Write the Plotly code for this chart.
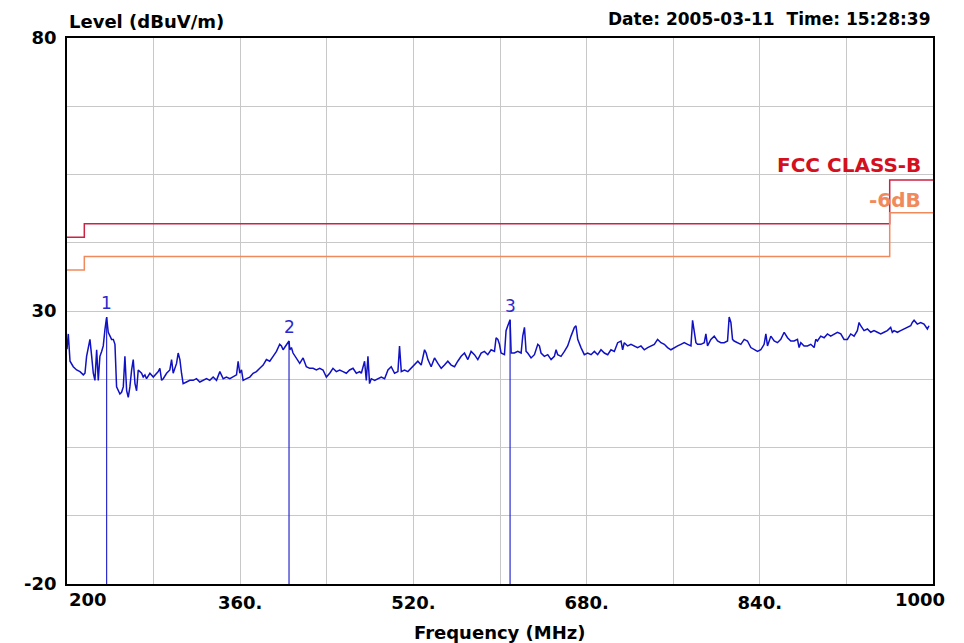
import plotly.graph_objects as go

# ---- measured trace (MHz, dBuV/m) ----
freq_mhz = [
    200.0, 201.2, 202.8, 205.8, 208.9, 212.0, 215.1, 216.6, 218.1, 221.2, 222.8, 224.3, 225.8, 227.4,
    228.9, 230.4, 232.0, 233.5, 235.1, 236.6, 238.1, 239.7, 241.2, 242.8, 244.3, 245.8, 247.4, 248.9,
    250.4, 252.0, 253.5, 255.1, 256.6, 258.1, 259.7, 261.2, 262.8, 264.3, 265.8, 267.4, 268.9, 270.4,
    272.0, 273.5, 276.6, 279.7, 282.7, 284.3, 285.8, 287.4, 288.9, 292.0, 295.0, 296.6, 298.1, 299.7,
    301.2, 302.7, 304.3, 305.8, 307.3, 310.4, 313.5, 316.6, 319.6, 322.7, 325.8, 328.9, 331.9, 335.0,
    338.1, 341.2, 344.3, 347.3, 350.4, 353.5, 356.6, 358.1, 359.6, 361.2, 362.7, 365.8, 368.9, 371.9,
    375.0, 378.1, 381.2, 384.2, 387.3, 390.4, 393.5, 396.5, 398.1, 399.6, 401.1, 402.7, 404.2, 405.1,
    405.8, 407.3, 408.8, 411.9, 415.0, 418.1, 421.1, 424.2, 427.3, 430.4, 433.4, 436.5, 439.6, 442.7,
    445.7, 448.8, 451.9, 455.0, 458.0, 461.1, 464.2, 467.3, 470.4,
    471.9, 474.9, 476.5, 478.0, 479.5, 481.1, 484.2, 487.2, 490.3, 493.4, 496.5, 499.5, 502.6, 505.7,
    507.2, 508.8, 511.8, 514.9, 518.0, 521.1, 524.1, 527.2, 530.3, 531.8, 533.4, 536.4, 539.5, 542.6,
    545.7, 548.7, 551.8, 554.9, 558.0, 561.0, 564.1, 567.2, 570.3, 573.3, 576.4, 579.5, 582.6, 585.6,
    588.7, 591.8, 594.9, 596.4, 598.0, 599.5, 601.0, 604.1, 605.6, 607.2, 608.7, 609.3, 610.3, 613.3,
    616.4, 619.5, 621.0, 622.6, 624.1, 625.6, 628.7, 631.8, 634.9, 636.4, 637.9, 641.0, 644.1, 647.2,
    650.2, 651.8, 653.3, 656.4, 659.5, 662.5, 665.6, 667.2, 668.7, 670.2, 671.8, 674.8, 677.9, 681.0,
    684.1, 687.2, 690.2, 693.3, 696.4, 699.5, 702.5, 705.6, 708.7, 711.8, 713.3, 714.8, 717.9, 721.0,
    724.1, 727.1, 730.2, 733.3, 736.4, 739.4,
    742.5, 745.6, 748.7, 751.8, 754.8, 757.9, 761.0, 764.1, 767.1, 770.2, 773.3, 776.4, 777.9, 779.4,
    781.0, 782.5, 785.6, 788.7, 790.2, 791.7, 794.8, 797.9, 801.0, 804.0, 807.1, 810.2, 811.7, 813.3,
    814.8, 816.3, 819.4, 822.5, 825.6, 828.6, 831.7, 834.8, 837.9, 840.9, 844.0, 845.6, 847.1, 850.2,
    853.3, 856.3, 859.4, 862.5, 865.6, 868.6, 871.7, 874.8, 876.3, 877.9, 880.9, 884.0, 887.1, 890.2,
    891.7, 893.2, 896.3, 899.4, 902.5, 905.5, 908.6, 911.7, 914.8, 917.8, 920.9, 924.0, 927.1, 930.1,
    931.7, 933.2, 936.3, 939.4, 942.5, 945.5, 948.6, 951.7, 954.8, 957.8, 960.9, 962.4, 964.0, 967.1,
    970.1, 973.2, 976.3, 979.4, 980.9, 982.5, 985.5, 988.6, 991.7, 994.8, 996.3,
]
level_dbuv = [
    23.0, 25.8, 20.8, 19.8, 19.2, 18.9, 18.3, 18.6, 21.7, 24.8, 21.7, 18.6, 17.3, 22.9,
    17.3, 21.7, 22.6, 23.6, 26.7, 28.9, 26.1, 25.4, 24.8, 24.8, 23.9, 16.1, 15.4, 14.8,
    15.1, 16.1, 21.7, 15.4, 14.2, 16.1, 19.2, 21.1, 16.7, 15.4, 19.2, 18.9, 18.6, 17.9,
    18.3, 17.6, 18.6, 17.9, 18.6, 18.9, 19.5, 17.3, 17.6, 18.6, 19.2, 21.1, 18.6, 19.8,
    20.4, 22.3, 21.1, 18.6, 16.7, 17.0, 17.3, 17.3, 17.6, 17.0, 17.3, 17.6, 17.3, 17.9,
    17.3, 18.9, 17.6, 17.9, 17.6, 17.9, 18.3, 20.8, 18.6, 19.2, 17.3, 17.6, 17.9, 18.6,
    18.9, 19.5, 20.1, 21.1, 20.8, 21.7, 22.6, 23.9, 23.6, 22.9, 23.3, 23.9, 24.2, 24.5,
    22.9, 23.3, 22.3, 21.4, 20.4, 21.4, 19.8, 19.5, 19.5, 19.2, 19.5, 19.2, 17.9, 18.6,
    19.5, 18.9, 19.2, 18.9, 18.6, 19.2, 19.5, 18.6, 18.9,
    18.6, 20.8, 17.3, 21.7, 16.7, 17.6, 17.3, 17.6, 17.9, 17.6, 19.2, 19.8, 18.6, 18.9,
    23.6, 18.9, 19.2, 18.9, 19.5, 20.1, 20.8, 20.1, 22.9, 22.3, 21.1, 19.8, 21.4, 20.4,
    19.5, 20.1, 20.8, 20.1, 19.8, 20.8, 21.7, 22.3, 21.1, 22.6, 22.0, 21.1, 22.3, 22.6,
    22.0, 22.9, 22.6, 25.1, 24.8, 23.9, 22.3, 22.0, 26.4, 27.3, 28.3, 28.4, 22.3, 22.3,
    22.6, 22.3, 25.4, 27.0, 22.6, 22.3, 21.4, 22.0, 23.9, 23.6, 22.3, 21.7, 22.0, 21.1,
    21.7, 22.9, 22.0, 21.7, 22.6, 23.6, 25.4, 26.1, 27.0, 27.3, 24.8, 23.3, 22.0, 22.3,
    22.0, 22.6, 22.0, 22.9, 22.3, 22.0, 22.9, 22.6, 24.2, 24.5, 22.9, 24.2, 23.6, 23.9,
    23.6, 23.3, 23.6, 22.9, 23.3, 23.6,
    23.9, 24.8, 24.2, 23.9, 23.3, 22.9, 23.3, 23.6, 23.9, 24.2, 23.9, 23.6, 28.3, 26.1,
    24.2, 23.9, 23.9, 24.2, 25.8, 23.6, 24.8, 25.4, 24.5, 24.2, 24.2, 24.5, 28.9, 27.9,
    24.8, 24.5, 24.2, 23.9, 24.8, 24.5, 23.3, 22.9, 22.6, 22.9, 23.9, 25.8, 23.6, 25.4,
    24.5, 24.2, 24.8, 26.1, 25.1, 24.5, 24.5, 24.8, 23.3, 24.2, 23.6, 23.6, 23.9, 23.3,
    24.8, 24.5, 25.4, 25.1, 25.8, 25.4, 25.8, 26.1, 25.8, 24.8, 24.8, 25.8, 25.4, 26.4,
    27.9, 27.3, 26.4, 26.7, 26.1, 26.4, 26.1, 25.8, 26.1, 26.4, 27.0, 26.1, 26.4, 26.1,
    26.4, 26.7, 27.0, 27.3, 27.9, 28.3, 27.6, 27.9, 27.6, 26.7, 27.3,
]

# ---- FCC class B limit and -6 dB margin (step lines) ----
limit_freq = [200, 216, 960, 1000]
fcc_limit = [43.5, 46.0, 54.0, 54.0]
margin_limit = [37.5, 40.0, 48.0, 48.0]

# ---- markers ----
marker_ids = ["1", "2", "3"]
marker_freq = [236.6, 405.1, 609.3]
marker_level = [28.9, 24.5, 28.4]

# ---- axes ----
x_grid = [200, 280, 360, 440, 520, 600, 680, 760, 840, 920, 1000]
x_labels = ["", "", "360.", "", "520.", "", "680.", "", "840.", "", ""]
y_grid = [-20, -7.5, 5, 17.5, 30, 42.5, 55, 67.5, 80]
y_labels = ["-20", "", "", "", "30", "", "", "", "80"]

FONT = "DejaVu Sans"
BLUE = "#1010C4"
RED = "#CC2244"
ORANGE = "#F08A5D"

fig = go.Figure()

fig.add_trace(go.Scatter(x=limit_freq, y=fcc_limit, mode="lines", line_shape="hv",
                         line=dict(color=RED, width=1.5), hoverinfo="skip"))
fig.add_trace(go.Scatter(x=limit_freq, y=margin_limit, mode="lines", line_shape="hv",
                         line=dict(color=ORANGE, width=1.5), hoverinfo="skip"))

mx, my = [], []
for f, l in zip(marker_freq, marker_level):
    mx += [f, f, None]
    my += [-20, l, None]
fig.add_trace(go.Scatter(x=mx, y=my, mode="lines", line=dict(color="#2A2ACC", width=1.2),
                         hoverinfo="skip"))

fig.add_trace(go.Scatter(x=freq_mhz, y=level_dbuv, mode="lines",
                         line=dict(color=BLUE, width=1.5)))

for mid, f, l in zip(marker_ids, marker_freq, marker_level):
    fig.add_annotation(x=f, y=l, text=mid, showarrow=False, yanchor="bottom", yshift=2,
                       font=dict(family=FONT, size=17, color="#2A2ACC"))

fig.add_annotation(x=991, y=fcc_limit[2] + 2.7, text="<b>FCC CLASS-B</b>", showarrow=False,
                   xanchor="right", yanchor="middle",
                   font=dict(family=FONT, size=20, color="#D4101E"))
fig.add_annotation(x=991, y=margin_limit[2] + 2.3, text="<b>-6dB</b>", showarrow=False,
                   xanchor="right", yanchor="middle",
                   font=dict(family=FONT, size=20, color=ORANGE))

bold = dict(family=FONT, size=18, color="black")
fig.add_annotation(xref="paper", yref="paper", x=0, y=1.031, text="<b>Level (dBuV/m)</b>",
                   showarrow=False, xanchor="left", yanchor="middle", font=bold)
fig.add_annotation(xref="paper", yref="paper", x=1, y=1.035,
                   text="<b>Date: 2005-03-11  Time: 15:28:39</b>",
                   showarrow=False, xanchor="right", yanchor="middle",
                   font=dict(family=FONT, size=17, color="black"))
fig.add_annotation(xref="paper", yref="paper", x=0.5, y=-0.0897, text="<b>Frequency (MHz)</b>",
                   showarrow=False, xanchor="center", yanchor="middle", font=bold)
fig.add_annotation(x=200, yref="paper", y=-0.0293, text="<b>200</b>", showarrow=False,
                   xanchor="left", yanchor="middle", font=bold)
fig.add_annotation(x=1000, yref="paper", y=-0.0293, text="<b>1000</b>", showarrow=False,
                   xanchor="right", yanchor="middle", xshift=14, font=bold)

fig.update_xaxes(range=[200, 1000], tickmode="array", tickvals=x_grid,
                 ticktext=[f"<b>{t}</b>" if t else "" for t in x_labels],
                 showgrid=True, gridcolor="#C8C8C8", gridwidth=1, zeroline=False,
                 showline=True, linecolor="black", linewidth=1.5, mirror=True,
                 ticks="", ticklabelstandoff=2, tickfont=bold)
fig.update_yaxes(range=[-20, 80], tickmode="array", tickvals=y_grid,
                 ticktext=[f"<b>{t}</b>" if t else "" for t in y_labels],
                 showgrid=True, gridcolor="#C8C8C8", gridwidth=1, zeroline=False,
                 showline=True, linecolor="black", linewidth=1.5, mirror=True,
                 ticks="", ticklabelstandoff=5, tickfont=bold)

fig.update_layout(width=956, height=635, showlegend=False,
                  margin=dict(l=59, r=31, t=30, b=59, pad=0),
                  paper_bgcolor="white", plot_bgcolor="white")

fig.write_html("out.html")
